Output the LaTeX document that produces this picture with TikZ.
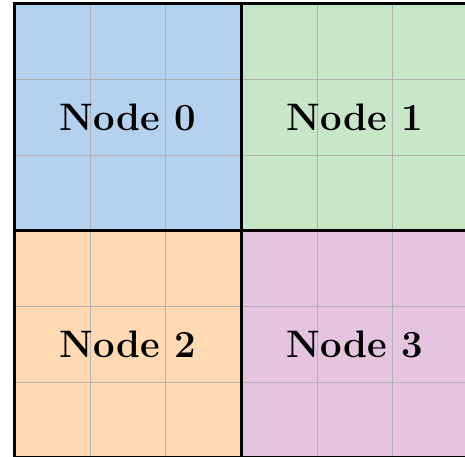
\documentclass[tikz,border=0pt]{standalone}
\usepackage{tikz}
\usetikzlibrary{positioning}

\definecolor{quadblue}{RGB}{180,209,238}
\definecolor{quadgreen}{RGB}{200,230,200}
\definecolor{quadorange}{RGB}{255,218,178}
\definecolor{quadpink}{RGB}{228,196,223}

\begin{document}
\begin{tikzpicture}[
    quad/.style={rectangle, draw, line width=1.2pt, minimum size=3cm, inner sep=0pt, font=\Large\bfseries},
    cell/.style={draw=gray!60, line width=0.4pt}
]
    \useasboundingbox (-0.19, 0.012) rectangle (5.954, 6.05);

    \fill[quadblue] (0, 3) rectangle (3, 6);
    \fill[quadgreen] (3, 3) rectangle (6, 6);
    \fill[quadorange] (0, 0) rectangle (3, 3);
    \fill[quadpink] (3, 0) rectangle (6, 3);

    \draw[cell] (0, 0) grid (6, 6);

    \node[quad] (n0) at (1.5, 4.5) {Node 0};
    \node[quad] (n1) at (4.5, 4.5) {Node 1};
    \node[quad] (n2) at (1.5, 1.5) {Node 2};
    \node[quad] (n3) at (4.5, 1.5) {Node 3};
\end{tikzpicture}
\end{document}
